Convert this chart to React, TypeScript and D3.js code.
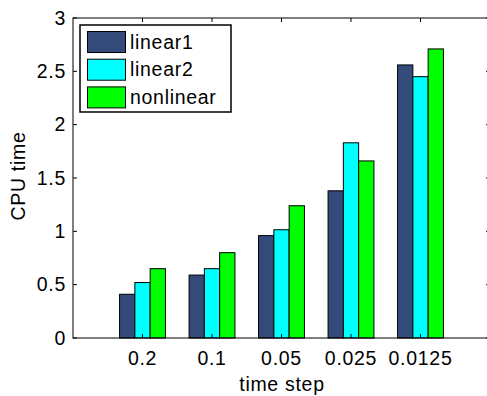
import React from "react";
import * as d3 from "d3";

const steps = ["0.2", "0.1", "0.05", "0.025", "0.0125"];
const seriesNames = ["linear1", "linear2", "nonlinear"];
const linear1 = [0.41, 0.59, 0.96, 1.38, 2.56];
const linear2 = [0.52, 0.65, 1.015, 1.83, 2.45];
const nonlinear = [0.65, 0.8, 1.24, 1.66, 2.71];
const colors = ["#344a7a", "#00ffff", "#00ff00"];
const yTicks = [0, 0.5, 1, 1.5, 2, 2.5, 3];

const font = "'Liberation Sans', Arial, Helvetica, sans-serif";
const fs = 19.5;
const ls = 0.7;

export default function App() {
  const margin = { left: 73, top: 18, right: 490, bottom: 338 };
  const x = d3.scaleLinear().domain([0, 6]).range([margin.left, margin.right]);
  const y = d3.scaleLinear().domain([0, 3]).range([margin.bottom, margin.top]);
  const series = [linear1, linear2, nonlinear];
  const barW = 0.22;
  const offsets = [-barW, 0, barW];

  return (
    <svg
      width={487}
      height={396}
      style={{ position: "absolute", left: 0, top: 0, background: "#fff" }}
      fontFamily={font}
      letterSpacing={ls}
    >
      {/* bars */}
      {series.map((vals, s) =>
        vals.map((v, i) => (
          <rect
            key={`${s}-${i}`}
            x={x(i + 1 + offsets[s] - barW / 2)}
            y={y(v)}
            width={x(barW) - x(0)}
            height={y(0) - y(v)}
            fill={colors[s]}
            stroke="#000"
            strokeWidth={1}
          />
        ))
      )}

      {/* axes box */}
      <rect
        x={margin.left}
        y={margin.top}
        width={margin.right - margin.left}
        height={margin.bottom - margin.top}
        fill="none"
        stroke="#000"
        strokeWidth={1}
      />

      {/* y ticks */}
      {yTicks.map((t) => (
        <g key={t}>
          <line x1={margin.left} x2={margin.left + 4} y1={y(t)} y2={y(t)} stroke="#000" />
          <line x1={margin.right} x2={margin.right - 4} y1={y(t)} y2={y(t)} stroke="#000" />
          <text
            x={margin.left - 7}
            y={y(t)}
            dy="0.35em"
            textAnchor="end"
            fontSize={fs}
          >
            {t}
          </text>
        </g>
      ))}

      {/* x ticks */}
      {steps.map((s, i) => (
        <g key={s}>
          <line x1={x(i + 1)} x2={x(i + 1)} y1={margin.bottom} y2={margin.bottom - 4} stroke="#000" />
          <line x1={x(i + 1)} x2={x(i + 1)} y1={margin.top} y2={margin.top + 4} stroke="#000" />
          <text x={x(i + 1)} y={365} textAnchor="middle" fontSize={fs}>
            {s}
          </text>
        </g>
      ))}

      {/* axis labels */}
      <text x={282} y={391} textAnchor="middle" fontSize={fs}>
        time step
      </text>
      <text
        transform={`translate(25,176) rotate(-90)`}
        textAnchor="middle"
        fontSize={fs}
      >
        CPU time
      </text>

      {/* legend */}
      <g>
        <rect x={80} y={25} width={151} height={87} fill="#fff" stroke="#000" strokeWidth={1.5} />
        {seriesNames.map((n, i) => (
          <g key={n}>
            <rect
              x={87.5}
              y={31.5 + i * 27.7}
              width={38}
              height={21}
              fill={colors[i]}
              stroke="#000"
            />
            <text x={130} y={48.5 + i * 27.7} fontSize={fs}>
              {n}
            </text>
          </g>
        ))}
      </g>
    </svg>
  );
}
